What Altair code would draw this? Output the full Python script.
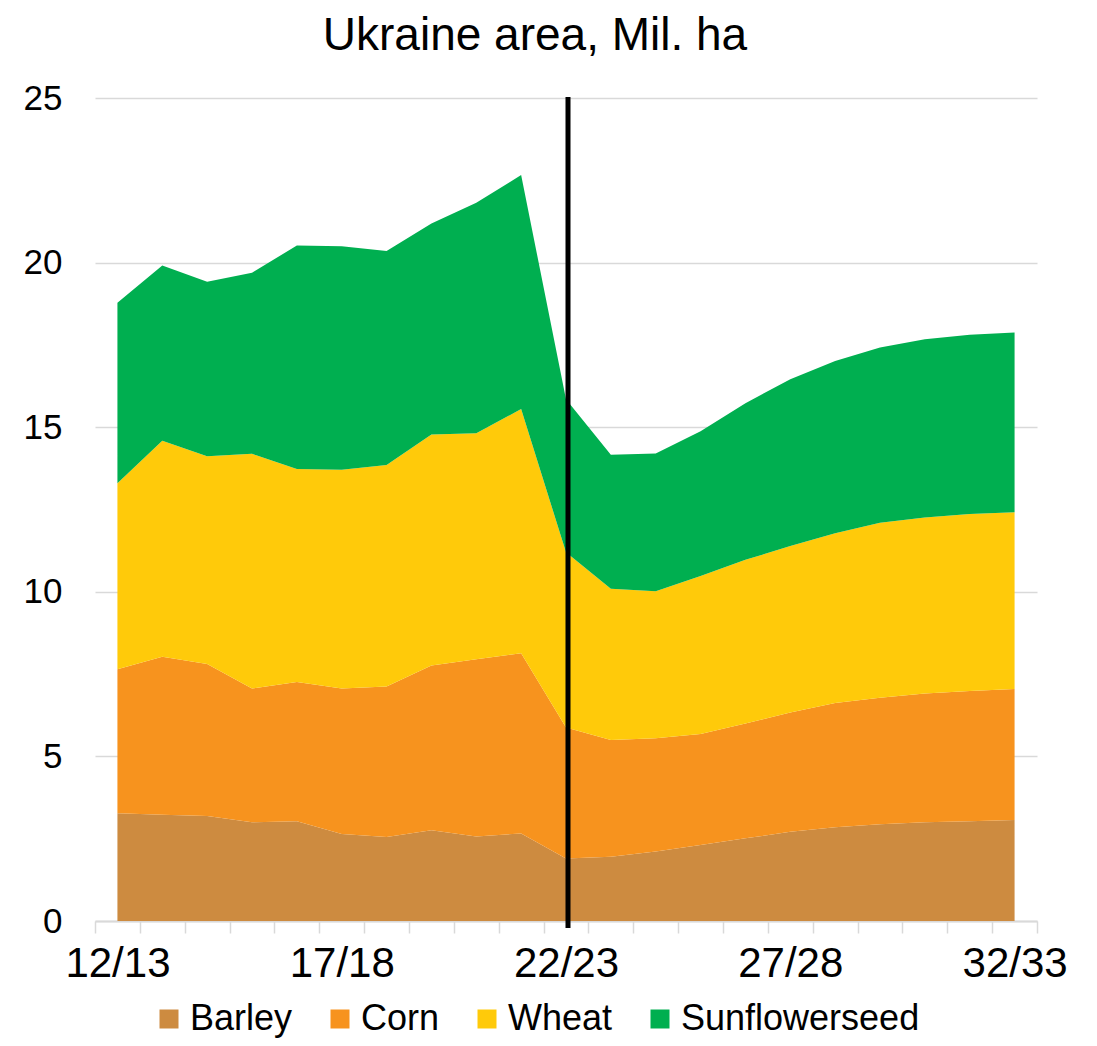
import altair as alt
import pandas as pd

seasons = ["12/13", "13/14", "14/15", "15/16", "16/17", "17/18", "18/19", "19/20",
           "20/21", "21/22", "22/23", "23/24", "24/25", "25/26", "26/27", "27/28",
           "28/29", "29/30", "30/31", "31/32", "32/33"]
barley = [3.27, 3.23, 3.19, 3.00, 3.03, 2.64, 2.55, 2.76, 2.57, 2.66, 1.90,
          1.95, 2.11, 2.31, 2.51, 2.71, 2.85, 2.94, 3.00, 3.03, 3.07]
corn = [4.38, 4.80, 4.62, 4.06, 4.23, 4.42, 4.57, 5.00, 5.38, 5.47, 3.98,
        3.55, 3.44, 3.37, 3.49, 3.62, 3.77, 3.84, 3.91, 3.96, 3.98]
wheat = [5.65, 6.56, 6.31, 7.13, 6.47, 6.65, 6.73, 7.02, 6.87, 7.42, 5.32,
         4.59, 4.47, 4.80, 4.97, 5.06, 5.16, 5.32, 5.35, 5.37, 5.37]
sunflowerseed = [5.48, 5.32, 5.30, 5.50, 6.79, 6.79, 6.50, 6.41, 7.00, 7.11, 4.65,
                 4.07, 4.18, 4.40, 4.76, 5.07, 5.23, 5.32, 5.41, 5.45, 5.46]

crops = ["Barley", "Corn", "Wheat", "Sunflowerseed"]
colors = ["#CD8B40", "#F7931E", "#FFCA0A", "#00AF50"]
shown_labels = seasons[::5]
divider_season = ["22/23"]

series = [barley, corn, wheat, sunflowerseed]
rows = []
for k, (crop, vals) in enumerate(zip(crops, series)):
    for s, v in zip(seasons, vals):
        rows.append({"season": s, "crop": crop, "value": v, "ord": k})
df = pd.DataFrame(rows)
line_df = pd.DataFrame({"season": divider_season})

label_list = "[" + ",".join("'" + s + "'" for s in shown_labels) + "]"

x_enc = alt.X(
    "season:O",
    sort=seasons,
    bandPosition=0.5,
    scale=alt.Scale(type="band", domain=seasons, paddingInner=0, paddingOuter=0),
    axis=alt.Axis(
        title=None, labelAngle=0, labelFontSize=42, labelColor="black",
        labelExpr="indexof(" + label_list + ", datum.value) >= 0 ? datum.value : ''",
        labelOverlap=False, tickBand="extent", tickSize=12, tickColor="#D9D9D9",
        tickWidth=1.5, domainColor="#D9D9D9", domainWidth=2, grid=False,
        labelPadding=10,
    ),
)

areas = alt.Chart(df).mark_area(opacity=1).encode(
    x=x_enc,
    y=alt.Y(
        "value:Q", stack="zero",
        scale=alt.Scale(domain=[0, 25], nice=False),
        axis=alt.Axis(
            title=None, values=[0, 5, 10, 15, 20, 25], labelFontSize=35,
            labelColor="black", labelPadding=33, ticks=False, domain=False,
            gridColor="#D9D9D9", gridWidth=1.5,
        ),
    ),
    color=alt.Color(
        "crop:N",
        sort=crops,
        scale=alt.Scale(domain=crops, range=colors),
        legend=alt.Legend(
            orient="none", legendX=56, legendY=903, direction="horizontal",
            title=None, symbolType="square", symbolSize=361, symbolStrokeWidth=0,
            labelFontSize=36, labelColor="black", labelOffset=3, labelLimit=500,
            columnPadding=29, symbolOpacity=1,
        ),
    ),
    order=alt.Order("ord:Q", sort="ascending"),
)

rule = alt.Chart(line_df).mark_rule(color="black", strokeWidth=5, xOffset=2).encode(
    x=alt.X("season:O", sort=seasons, bandPosition=0.5),
    y=alt.value(-1),
    y2=alt.value(830),
)

chart = alt.layer(areas, rule).properties(
    width=942,
    height=823,
    autosize="none",
    padding={"left": 87, "top": 90, "right": 52, "bottom": 117},
    title=alt.TitleParams(
        "Ukraine area, Mil. ha", fontSize=46, fontWeight="normal",
        anchor="middle", dx=-31, offset=21, color="black",
    ),
).configure(font="Liberation Sans").configure_view(stroke=None)

chart.save("out.html", embed_options={"renderer": "svg", "actions": False})
